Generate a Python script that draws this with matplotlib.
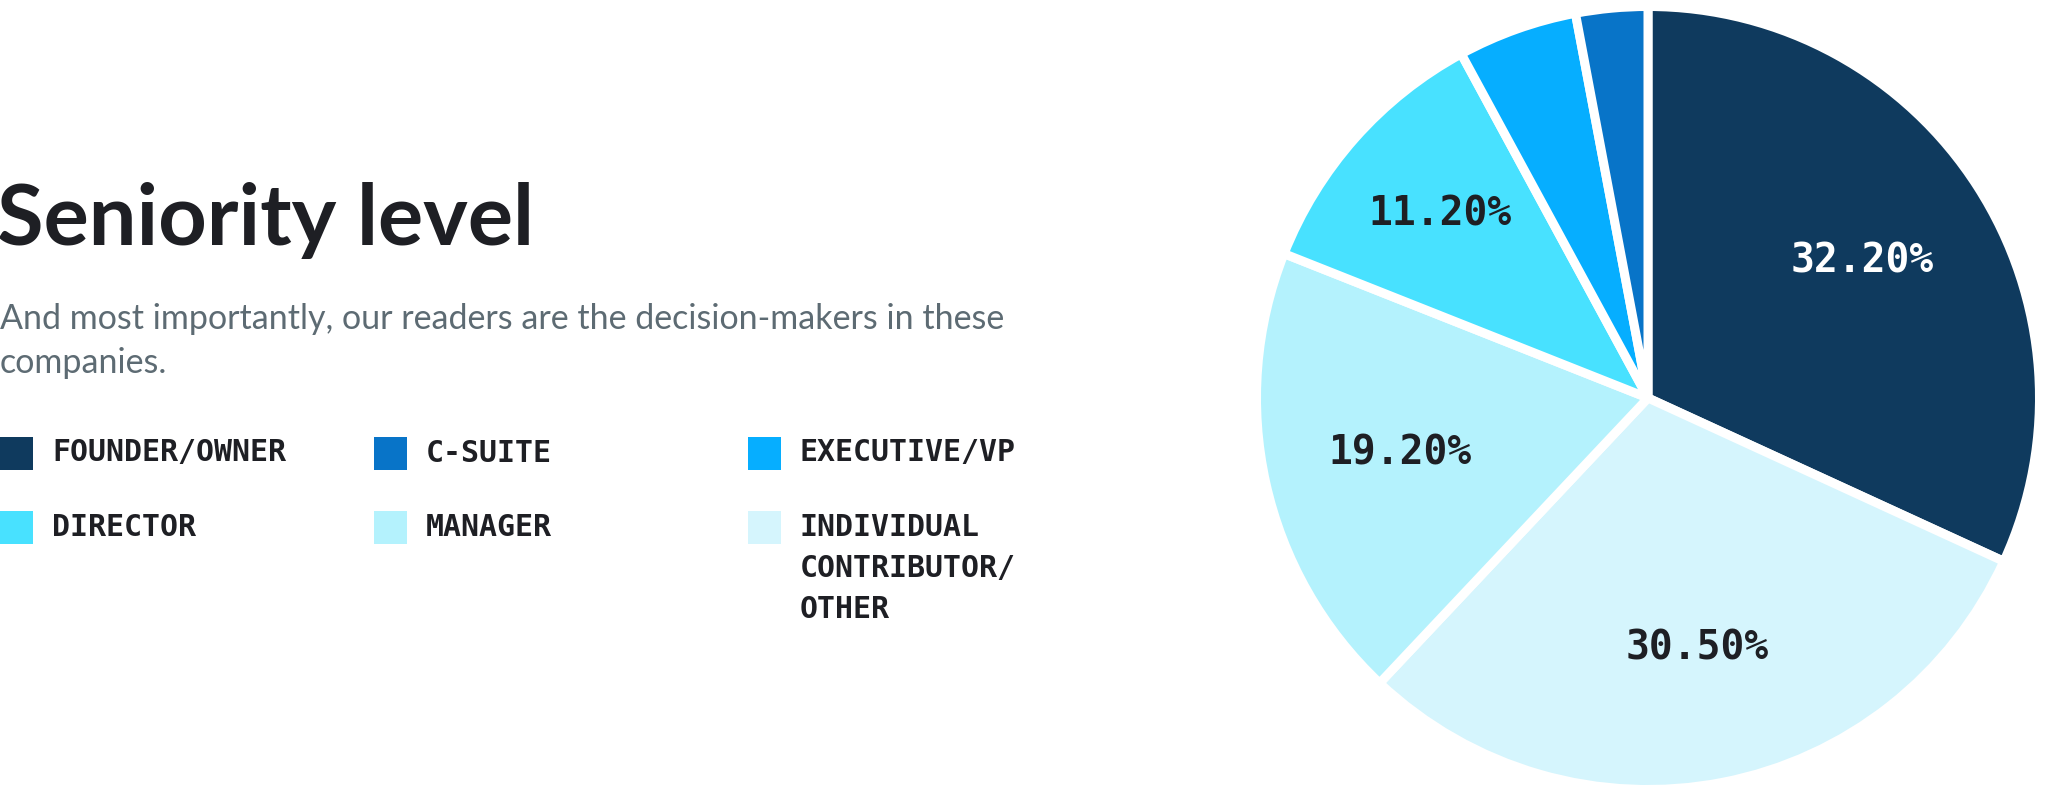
import numpy as np
import matplotlib
matplotlib.use("Agg")
import matplotlib.pyplot as plt
from matplotlib.patches import Rectangle

# ---- data ----
categories = ["FOUNDER/OWNER", "C-SUITE", "EXECUTIVE/VP",
              "DIRECTOR", "MANAGER", "INDIVIDUAL\nCONTRIBUTOR/\nOTHER"]
values = [32.2, 3.0, 5.0, 11.2, 19.2, 30.5]
colors = ["#0f3a5e", "#0874c8", "#06aeff", "#48e1ff", "#b4f2fd", "#d5f5fd"]
# order of slices clockwise from 12 o'clock
pie_order = [0, 5, 4, 3, 2, 1]
title = "Seniority level"
subtitle = "And most importantly, our readers are the decision-makers in these\ncompanies."

W, H = 2048, 800
fig = plt.figure(figsize=(W / 100, H / 100), dpi=100)
fig.patch.set_facecolor("white")

# pixel-coordinate overlay
ov = fig.add_axes([0, 0, 1, 1])
ov.set_xlim(0, W)
ov.set_ylim(H, 0)
ov.axis("off")

TXT = "#1e1f24"
ov.text(-3, 245, title, fontsize=61, fontweight="bold", family=["Lato", "DejaVu Sans"],
        color=TXT, ha="left", va="baseline")
sub_lines = subtitle.split("\n")
for k, line in enumerate(sub_lines):
    ov.text(0, 319 + k * 44, line, fontsize=24.5, family=["Lato", "DejaVu Sans"],
            color="#5d6b73", ha="left", va="center")

# legend (3 columns x 2 rows)
col_x = [0, 374, 748]
row_y = [453, 527]
for i, (cat, col) in enumerate(zip(categories, colors)):
    cx = col_x[i % 3]
    cy = row_y[i // 3]
    ov.add_patch(Rectangle((cx, cy - 16.5), 33, 33, facecolor=col, edgecolor="none"))
    for k, line in enumerate(cat.split("\n")):
        ov.text(cx + 52, cy + k * 41, line, fontsize=21.5, fontweight="bold",
                family="DejaVu Sans Mono", color=TXT, ha="left", va="center")

# pie
cxp, cyp = 1648, 398
lw_px = 9
R = 387 + lw_px / 2
pax = fig.add_axes([(cxp - R) / W, (H - cyp - R) / H, 2 * R / W, 2 * R / H])
pv = [values[i] for i in pie_order]
pc = [colors[i] for i in pie_order]
wedges, _ = pax.pie(pv, colors=pc, startangle=90, counterclock=False, radius=1,
                    wedgeprops=dict(edgecolor="white", linewidth=lw_px * 0.72,
                                    joinstyle="bevel"))
pax.set_xlim(-1, 1)
pax.set_ylim(-1, 1)
pax.set_aspect("equal")
pax.axis("off")

for w, idx in zip(wedges, pie_order):
    v = values[idx]
    if v < 10:
        continue
    ang = np.deg2rad((w.theta1 + w.theta2) / 2)
    d = 0.65 if v > 12 else 0.71
    tc = "white" if idx == 0 else TXT
    pax.text(d * np.cos(ang), d * np.sin(ang), f"{v:.2f}%", fontsize=28.5,
             fontweight="bold", family="DejaVu Sans Mono", color=tc,
             ha="center", va="center")

fig.savefig("out.png", dpi=100, facecolor="white")
